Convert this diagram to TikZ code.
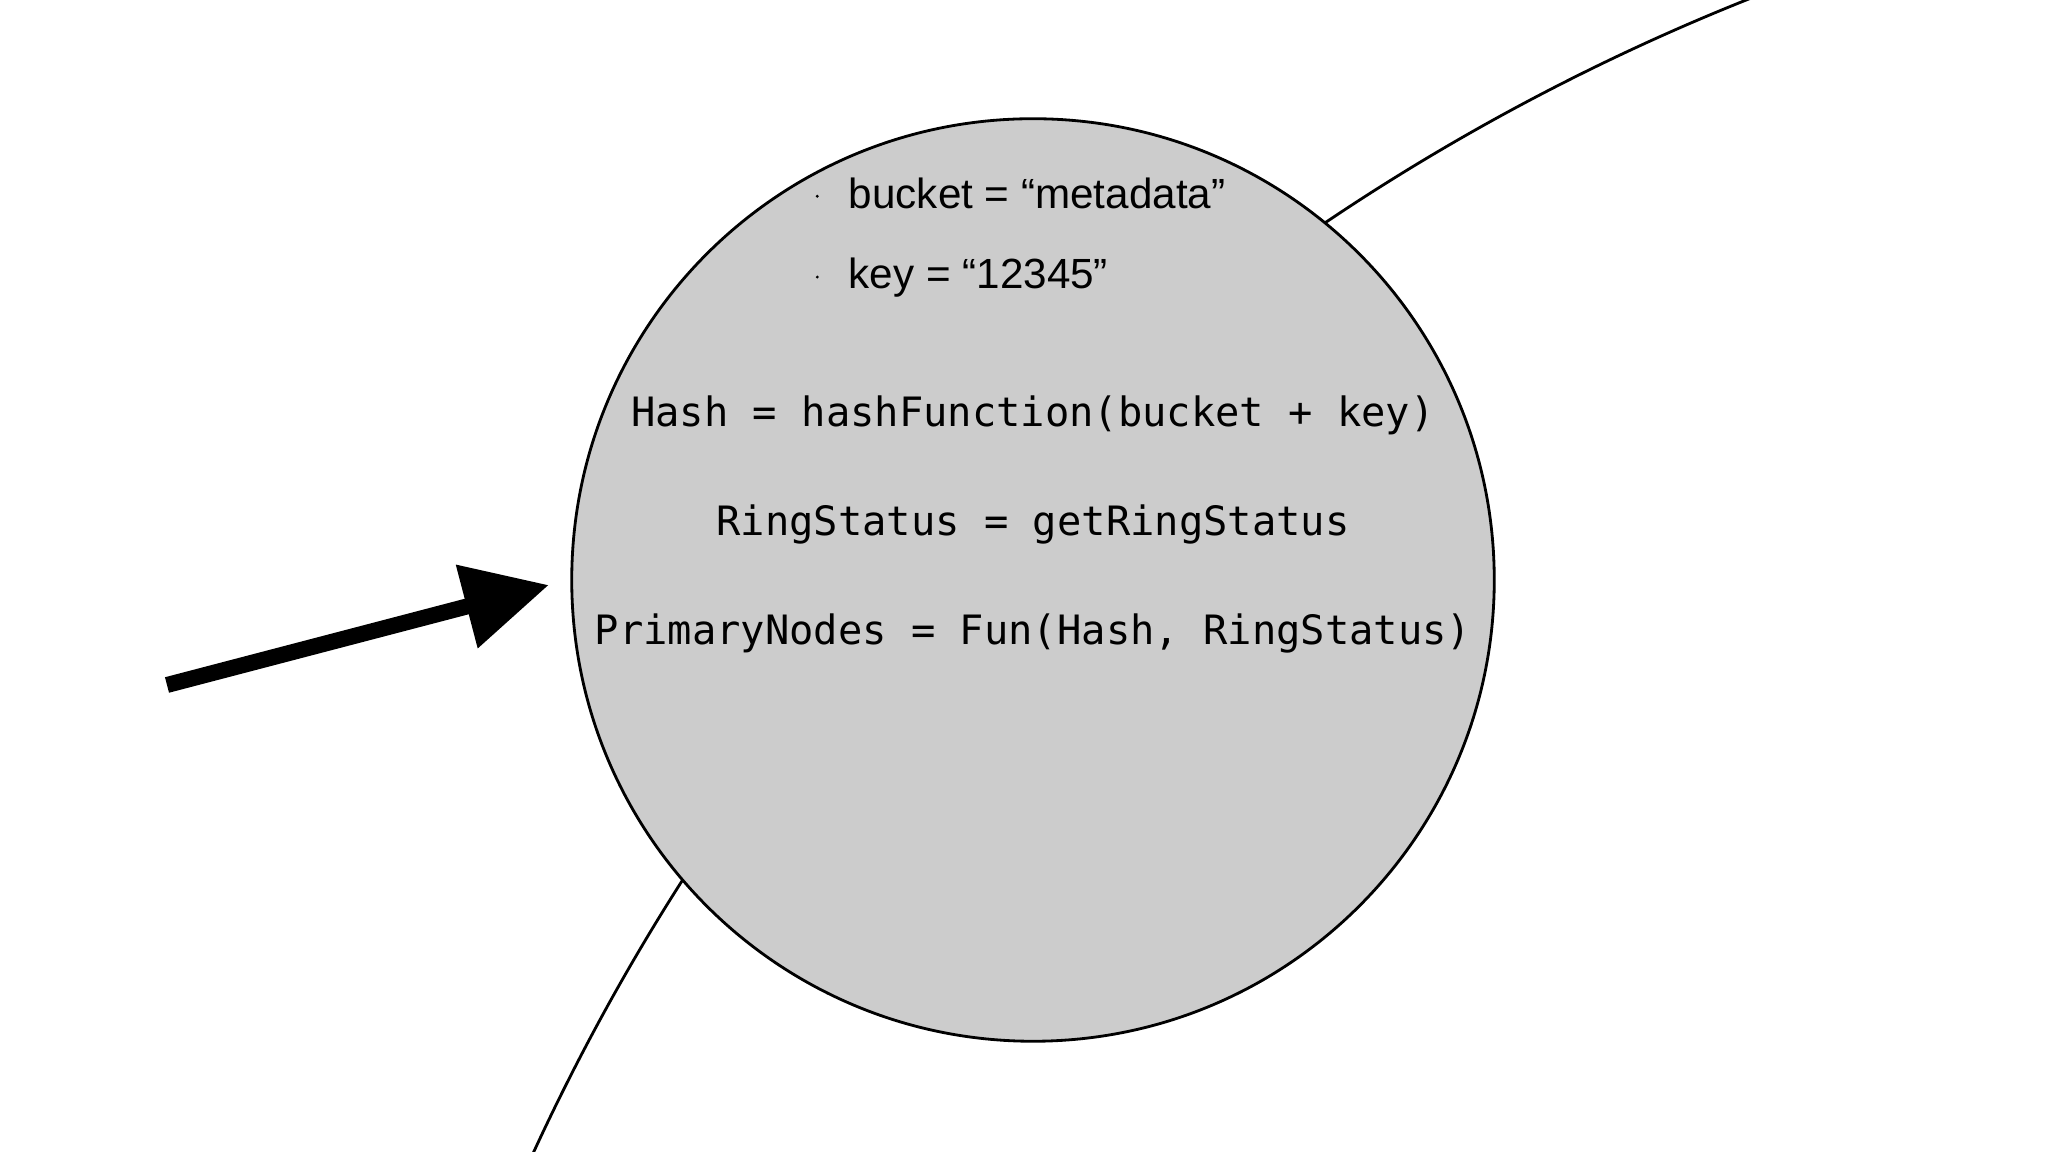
\documentclass[tikz,border=0pt]{standalone}
\usepackage{fontspec}
\setmainfont{Liberation Sans}
\newfontfamily\codefont{DejaVu Sans Mono}
\usetikzlibrary{arrows.meta}
\newcommand{\mybul}{\tikz[baseline=-0.28em]\fill (0,0) circle (0.45pt);}
\begin{document}
\begin{tikzpicture}[x=0.01cm,y=0.01cm,
  code/.style={font=\codefont\fontsize{11.5}{14}\selectfont,inner sep=0pt},
  item/.style={font=\fontsize{12}{14}\selectfont,anchor=west,inner sep=0pt},
  bigarrow/.style={line width=0.16cm,-{Triangle[length=0.85cm,width=0.82cm]}}]
\useasboundingbox (0,0) rectangle (2048,1152);
\begin{scope}
\clip (0,0) rectangle (2048,1152);
\draw[line width=0.8pt] (2583,-943) circle [radius=22.54cm];
\end{scope}
\node[circle,draw,line width=0.8pt,fill={rgb,255:red,204;green,204;blue,204},minimum size=9.22cm,inner sep=0pt] (c) at (1033,572) {};
\node[item] (b1) at (815,959) {\mybul\hspace{0.3cm}bucket = “metadata”};
\node[item] (b2) at (815,874) {\mybul\hspace{0.3cm}key = “12345”};
\node[code] (h) at (1033,737) {Hash = hashFunction(bucket + key)};
\node[code] (r) at (1033,628) {RingStatus = getRingStatus};
\node[code] (p) at (1033,519) {PrimaryNodes = Fun(Hash, RingStatus)};
\coordinate (s) at (167,467);
\coordinate (t) at (549,567);
\draw[bigarrow] (s) -- (t);
\end{tikzpicture}
\end{document}
